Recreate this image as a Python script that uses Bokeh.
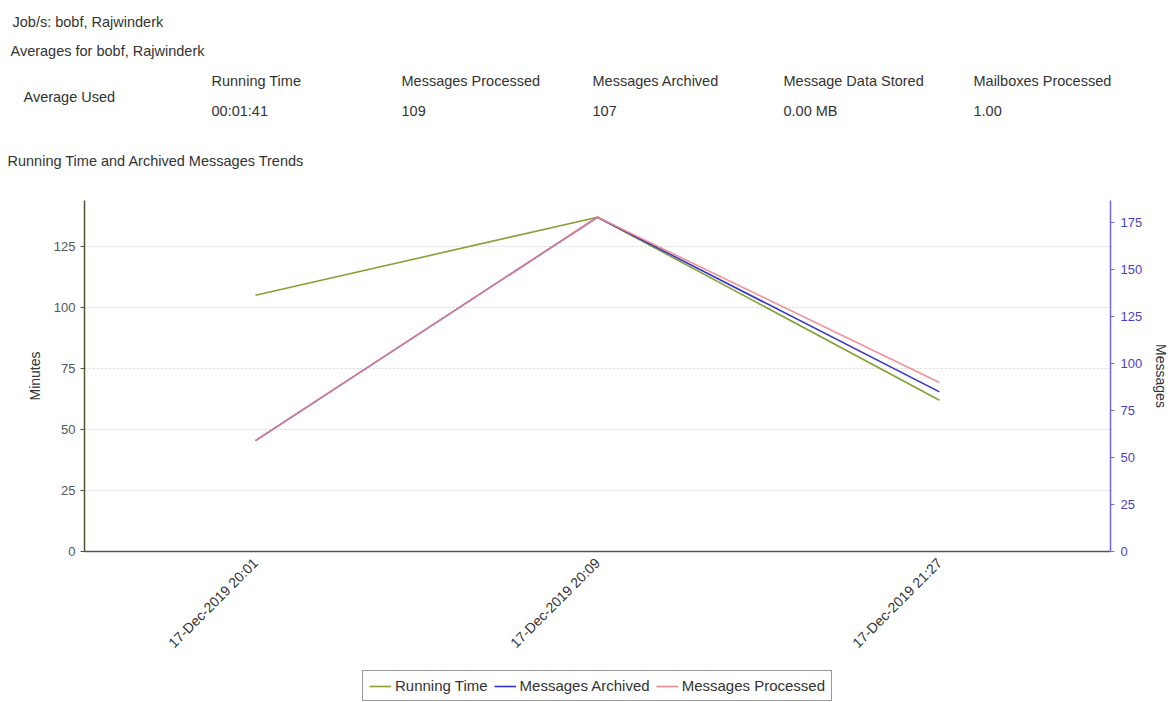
import math
from bokeh.plotting import figure
from bokeh.models import (Range1d, LinearAxis, FixedTicker, Legend, LegendItem,
                          FactorRange, ColumnDataSource)
from bokeh.layouts import column
from bokeh.embed import file_html
from bokeh.resources import INLINE
from bokeh.core.properties import value

# ---------------- data ----------------
dates = ["17-Dec-2019 20:01", "17-Dec-2019 20:09", "17-Dec-2019 21:27"]
running_time = [105, 137, 62]          # left axis ("Minutes")
msgs_archived = [59, 178, 85]          # right axis ("Messages")
msgs_processed = [59, 178, 90]         # right axis ("Messages")

series_names = ["Running Time", "Messages Archived", "Messages Processed"]
series_colors = ["#84a236", "#3535c8", "#f0868c"]

job_line = "Job/s: bobf, Rajwinderk"
avg_line = "Averages for bobf, Rajwinderk"
row_label = "Average Used"
summary_headers = ["Running Time", "Messages Processed", "Messages Archived",
                   "Message Data Stored", "Mailboxes Processed"]
summary_values = ["00:01:41", "109", "107", "0.00 MB", "1.00"]
chart_title = "Running Time and Archived Messages Trends"

left_ticks = [0, 25, 50, 75, 100, 125]
right_ticks = [0, 25, 50, 75, 100, 125, 150, 175]

FONT = "Liberation Sans"
TXT = "#333333"
W = 1165

# ---------------- header ----------------
HH = 180
h = figure(width=W, height=HH, x_range=Range1d(0, W), y_range=Range1d(HH, 0),
           output_backend="svg", toolbar_location=None,
           x_axis_location=None, y_axis_location=None, min_border=0)
h.frame_align = False
h.outline_line_color = None
h.xgrid.visible = False
h.ygrid.visible = False

col_x = [211, 401, 592, 783, 973]
hsrc = ColumnDataSource(dict(
    x=[12, 10, 23, 7] + col_x + col_x,
    y=[21, 50, 96, 160] + [80] * 5 + [110] * 5,
    t=[job_line, avg_line, row_label, chart_title] + summary_headers + summary_values,
))
h.text(x="x", y="y", text="t", source=hsrc, text_font=value(FONT),
       text_font_size="14.5px", text_color=TXT, text_baseline="middle",
       text_align="left")

# ---------------- main chart ----------------
left_max = max(running_time) * 1.05
right_max = max(msgs_processed + msgs_archived) * 1.05

p = figure(x_range=FactorRange(*dates), y_range=Range1d(0, left_max),
           frame_width=1026, frame_height=351,
           min_border_left=84, min_border_right=55, min_border_top=20,
           min_border_bottom=115,
           output_backend="svg", toolbar_location=None)
p.frame_align = False
p.extra_y_ranges = {"msg": Range1d(0, right_max)}
p.outline_line_color = None
p.xgrid.visible = False
p.ygrid.grid_line_color = "#d6d6d6"
p.ygrid.grid_line_dash = "2 2"
p.ygrid.ticker = FixedTicker(ticks=left_ticks[1:])

# left axis
ya = p.yaxis[0]
ya.ticker = FixedTicker(ticks=left_ticks)
ya.axis_label = "Minutes"
ya.axis_label_text_font = FONT
ya.axis_label_text_font_size = "14px"
ya.axis_label_text_font_style = "normal"
ya.axis_label_text_color = TXT
ya.axis_label_standoff = 8
ya.major_label_text_font = FONT
ya.major_label_text_font_size = "13px"
ya.major_label_text_color = "#555555"
ya.major_label_standoff = 5
ya.axis_line_color = "#50532f"
ya.axis_line_width = 1.5
ya.major_tick_line_color = "#50532f"
ya.major_tick_in = 0
ya.major_tick_out = 4
ya.minor_tick_line_color = None

# right axis
ra = LinearAxis(y_range_name="msg", ticker=FixedTicker(ticks=right_ticks))
ra.axis_label = "Messages"
ra.axis_label_text_font = FONT
ra.axis_label_text_font_size = "14px"
ra.axis_label_text_font_style = "normal"
ra.axis_label_text_color = TXT
ra.axis_label_standoff = 8
ra.major_label_text_font = FONT
ra.major_label_text_font_size = "13px"
ra.major_label_text_color = "#4b3fc0"
ra.major_label_standoff = 6
ra.axis_line_color = "#7468d8"
ra.axis_line_width = 1.5
ra.major_tick_line_color = "#7468d8"
ra.major_tick_in = 0
ra.major_tick_out = 4
ra.minor_tick_line_color = None
p.add_layout(ra, "right")

# bottom axis
xa = p.xaxis[0]
xa.major_label_orientation = math.pi / 4
xa.major_label_text_font = FONT
xa.major_label_text_font_size = "14px"
xa.major_label_text_color = TXT
xa.major_label_standoff = 9
xa.axis_line_color = "#555555"
xa.axis_line_width = 1.5
xa.major_tick_line_color = None
xa.major_tick_in = 0
xa.major_tick_out = 0
xa.minor_tick_line_color = None

src = ColumnDataSource(dict(d=dates, rt=running_time, ma=msgs_archived,
                            mp=msgs_processed))
p.line("d", "rt", source=src, line_color=series_colors[0], line_width=1.6)
p.line("d", "ma", source=src, line_color=series_colors[1], line_width=1.6,
       y_range_name="msg")
p.line("d", "mp", source=src, line_color=series_colors[2], line_width=1.6,
       line_alpha=0.9, y_range_name="msg")

# ---------------- legend strip ----------------
LH = 702 - HH - (20 + 351 + 115)
lg = figure(width=W, height=LH, x_range=FactorRange(*dates),
            y_range=Range1d(-2, -1), output_backend="svg",
            toolbar_location=None, x_axis_location=None, y_axis_location=None,
            min_border=0)
lg.frame_align = False
lg.outline_line_color = None
lg.xgrid.visible = False
lg.ygrid.visible = False
# same series, kept out of the (empty) view: only their legend entries show
l1 = lg.line("d", "rt", source=src, line_color=series_colors[0], line_width=1.6)
l2 = lg.line("d", "ma", source=src, line_color=series_colors[1], line_width=1.6)
l3 = lg.line("d", "mp", source=src, line_color=series_colors[2], line_width=1.6)

legend = Legend(items=[LegendItem(label=series_names[0], renderers=[l1]),
                       LegendItem(label=series_names[1], renderers=[l2]),
                       LegendItem(label=series_names[2], renderers=[l3])],
                orientation="horizontal", location=(362, 1),
                label_text_font=FONT, label_text_font_size="15px",
                label_text_color=TXT, glyph_width=22, glyph_height=14,
                label_standoff=4, spacing=6, padding=6, margin=0,
                border_line_color="#333333", border_line_width=1,
                background_fill_color="white", background_fill_alpha=1)
lg.add_layout(legend, "center")

layout = column(h, p, lg, spacing=0)
open("out.html", "w").write(file_html(layout, INLINE))
